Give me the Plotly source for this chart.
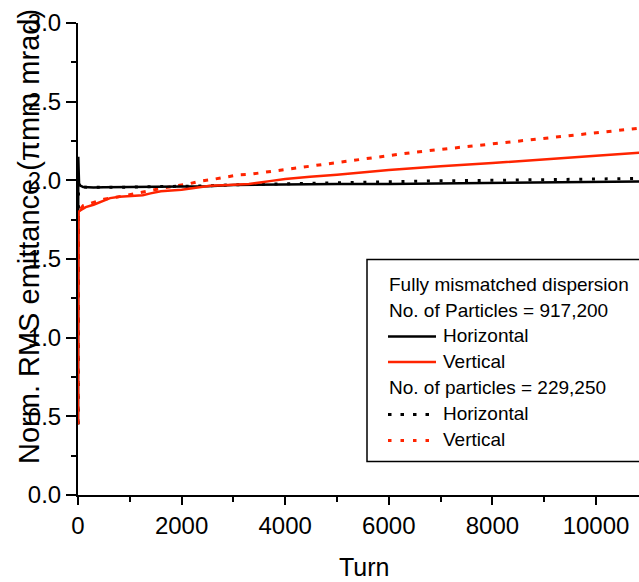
import plotly.graph_objects as go

# ---------------- data ----------------
turn_h1 = [0, 5, 20, 50, 100, 200, 300, 500, 1000, 1500, 2000, 2500, 3000, 4000, 5000,
           6000, 7000, 8000, 9000, 10000, 10850]
horiz_917k = [0.45, 2.15, 1.98, 1.965, 1.958, 1.955, 1.955, 1.956, 1.957, 1.959, 1.960,
              1.963, 1.970, 1.975, 1.976, 1.977, 1.980, 1.983, 1.986, 1.989, 1.992]

turn_v1 = [0, 10, 50, 150, 300, 500, 620, 800, 1000, 1250, 1400, 1600, 2000, 2300, 2550,
           2900, 3300, 3700, 4000, 4480, 4800, 5000, 6000, 7000, 8000, 9000, 10000, 10850]
vert_917k = [0.45, 1.80, 1.81, 1.83, 1.845, 1.87, 1.887, 1.895, 1.90, 1.905, 1.917, 1.93,
             1.94, 1.955, 1.965, 1.97, 1.976, 1.995, 2.008, 2.022, 2.03, 2.035, 2.065, 2.09,
             2.11, 2.135, 2.157, 2.175]

turn_h2 = [0, 10, 50, 200, 1000, 2000, 2500, 3000, 4000, 5000, 6000, 7000, 8000, 9000,
           10000, 10850]
horiz_229k = [0.45, 2.0, 1.96, 1.955, 1.957, 1.960, 1.965, 1.972, 1.978, 1.986, 1.993, 1.997,
              2.0, 2.004, 2.008, 2.012]

turn_v2 = [0, 10, 100, 300, 500, 700, 1000, 1400, 1640, 1870, 2120, 2360, 2600, 2840, 3100,
           3350, 3585, 3830, 4070, 4320, 5000, 6000, 6535, 7510, 8480, 9460, 10850]
vert_229k = [0.45, 1.80, 1.84, 1.86, 1.88, 1.89, 1.91, 1.933, 1.952, 1.965, 1.976, 1.995,
             2.006, 2.018, 2.035, 2.04, 2.05, 2.065, 2.075, 2.082, 2.11, 2.157, 2.18, 2.215,
             2.249, 2.283, 2.332]

x_ticks = [0, 2000, 4000, 6000, 8000, 10000]
y_ticks = [0.0, 0.5, 1.0, 1.5, 2.0, 2.5, 3.0]
y_ticklabels = ["0.0", "0.5", "1.0", "1.5", "2.0", "2.5", "3.0"]

legend_title = ["Fully mismatched dispersion", "No. of Particles = 917,200"]
legend_sub = "No. of particles = 229,250"

BLACK = "#000000"
RED = "#ff2400"

# ---------------- figure ----------------
W, H = 639, 582
ML, MR, MT, MB = 78, 0, 23, 87
PW, PH = W - ML - MR, H - MT - MB


def px(xp):
    return (xp - ML) / PW


def py(yp):
    return (H - MB - yp) / PH


fig = go.Figure()
fig.add_trace(go.Scatter(x=turn_h2, y=horiz_229k, mode="lines",
                         line=dict(color=BLACK, width=3, dash="3px,9.7px"), showlegend=False))
fig.add_trace(go.Scatter(x=turn_v2, y=vert_229k, mode="lines",
                         line=dict(color=RED, width=3, dash="5px,7.7px"), showlegend=False))
fig.add_trace(go.Scatter(x=turn_h1, y=horiz_917k, mode="lines",
                         line=dict(color=BLACK, width=2.5), showlegend=False))
fig.add_trace(go.Scatter(x=turn_v1, y=vert_917k, mode="lines",
                         line=dict(color=RED, width=2.5), showlegend=False))

FONTFAM = "Arial, Liberation Sans, sans-serif"
TICKFONT = dict(family=FONTFAM, size=24, color="black")

fig.update_layout(
    width=W, height=H,
    margin=dict(l=ML, r=MR, t=MT, b=MB, pad=0),
    plot_bgcolor="white", paper_bgcolor="white",
    showlegend=False,
    xaxis=dict(range=[0, 10830], showgrid=False, zeroline=False,
               showline=True, linecolor="black", linewidth=2,
               ticks="outside", ticklen=8, tickwidth=2, tickcolor="black",
               tickvals=x_ticks, ticktext=[str(v) for v in x_ticks],
               tickfont=TICKFONT,
               minor=dict(dtick=1000, tick0=0, ticks="outside", ticklen=5,
                          tickwidth=2, tickcolor="black")),
    yaxis=dict(range=[0, 3], showgrid=False, zeroline=False,
               showline=True, linecolor="black", linewidth=2,
               ticks="outside", ticklen=10, tickwidth=2, tickcolor="black",
               tickvals=y_ticks, ticktext=y_ticklabels,
               tickfont=TICKFONT,
               minor=dict(dtick=0.25, tick0=0, ticks="outside", ticklen=5,
                          tickwidth=2, tickcolor="black")),
)

# axis titles
fig.add_annotation(text="Turn", xref="paper", yref="paper", x=px(364), y=py(567),
                   xanchor="center", yanchor="middle", showarrow=False,
                   font=dict(family=FONTFAM, size=25, color="black"))
fig.add_annotation(text="Norm. RMS emittance (πmm mrad)", xref="paper", yref="paper",
                   x=px(29), y=py(237), xanchor="center", yanchor="middle", textangle=-90,
                   showarrow=False,
                   font=dict(family=FONTFAM, size=29, color="black"))

# legend box
fig.add_shape(type="rect", xref="paper", yref="paper", x0=px(367), x1=px(660),
              y0=py(461.5), y1=py(259.5), line=dict(color="black", width=1.5),
              fillcolor="white", layer="above")
LFONT = dict(family=FONTFAM, size=19, color="black")
rows = [
    (legend_title[0], 387, 284, None),
    (legend_title[1], 387, 310, None),
    ("Horizontal", 441, 335.5, ("solid", BLACK)),
    ("Vertical", 441, 361, ("solid", RED)),
    (legend_sub, 387, 387.5, None),
    ("Horizontal", 441, 413.5, ("dot", BLACK)),
    ("Vertical", 441, 439.5, ("dot", RED)),
]
for text, xp, yp, sample in rows:
    fig.add_annotation(text=text, xref="paper", yref="paper", x=px(xp), y=py(yp),
                       xanchor="left", yanchor="middle", showarrow=False, font=LFONT)
    if sample:
        style, col = sample
        if style == "solid":
            fig.add_shape(type="line", xref="paper", yref="paper", x0=px(388), x1=px(436),
                          y0=py(yp + 1), y1=py(yp + 1), line=dict(color=col, width=2.5),
                          layer="above")
        else:
            fig.add_shape(type="line", xref="paper", yref="paper", x0=px(388), x1=px(429),
                          y0=py(yp + 1), y1=py(yp + 1),
                          line=dict(color=col, width=3, dash="3.5px,9px"), layer="above")

fig.write_html("out.html")
